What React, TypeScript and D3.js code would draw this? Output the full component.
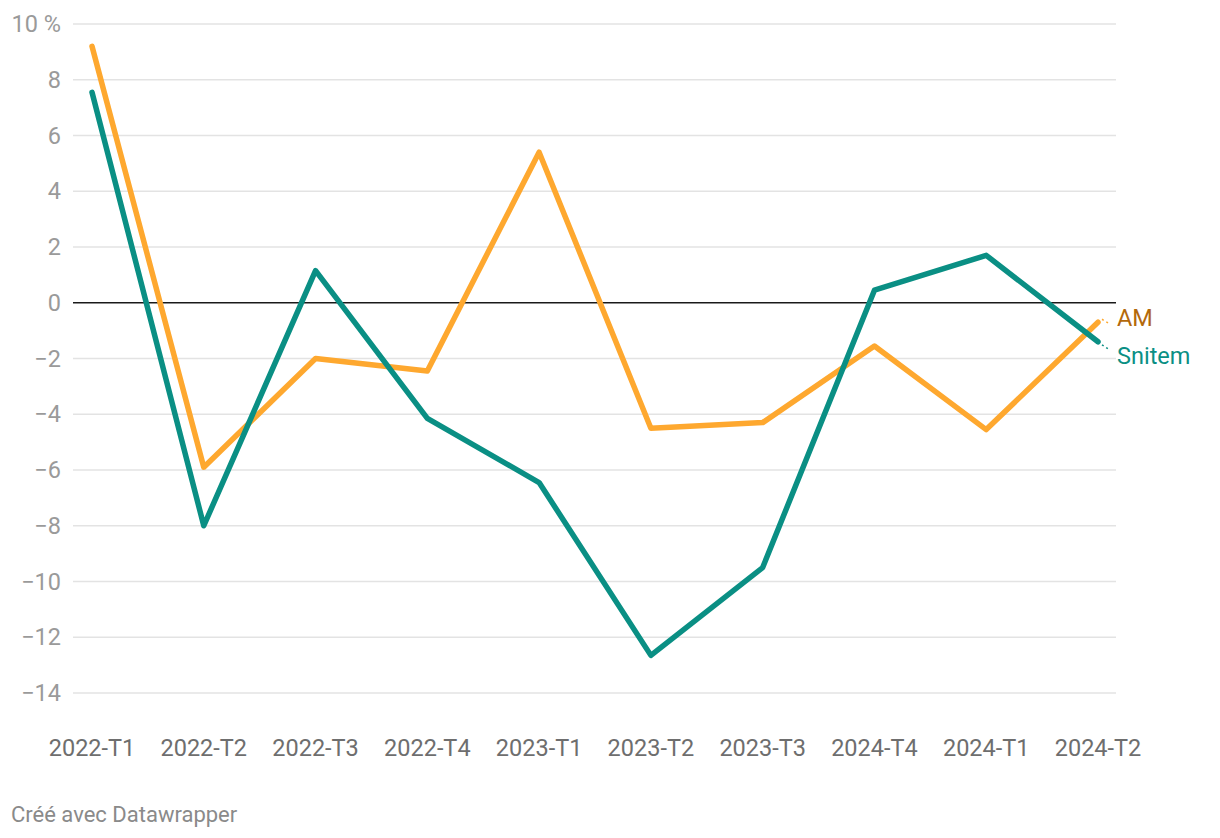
import * as d3 from "d3";
import React, { useRef, useEffect } from "react";

const quarters = ["2022-T1", "2022-T2", "2022-T3", "2022-T4", "2023-T1", "2023-T2", "2023-T3", "2024-T4", "2024-T1", "2024-T2"];
const amValues = [9.2, -5.9, -2.0, -2.45, 5.4, -4.5, -4.3, -1.55, -4.55, -0.7];
const snitemValues = [7.55, -8.0, 1.15, -4.15, -6.45, -12.65, -9.5, 0.45, 1.7, -1.4];
const yTicks = [10, 8, 6, 4, 2, 0, -2, -4, -6, -8, -10, -12, -14];

const width = 1220;
const height = 838;

const App = () => {
  const ref = useRef(null);

  useEffect(() => {
    const svg = d3.select(ref.current);
    svg.selectAll("*").remove();

    const font = "Roboto, sans-serif";
    const x = d3.scalePoint().domain(quarters).range([92, 1098]);
    const y = d3.scaleLinear().domain([-14, 10]).range([693, 24]);

    // grid
    const grid = svg.append("g");
    grid.selectAll("line")
      .data(yTicks.filter((d) => d !== 0))
      .enter()
      .append("line")
      .attr("x1", 73)
      .attr("x2", 1116)
      .attr("y1", (d) => y(d))
      .attr("y2", (d) => y(d))
      .attr("stroke", "#e3e3e3")
      .attr("stroke-width", 1.5);

    grid.selectAll("text")
      .data(yTicks)
      .enter()
      .append("text")
      .attr("x", 61)
      .attr("y", (d) => y(d))
      .attr("dy", "0.35em")
      .attr("text-anchor", "end")
      .attr("font-family", font)
      .attr("font-size", 23.5)
      .attr("fill", "#9a9a9a")
      .text((d) => (d === 10 ? "10 %" : d < 0 ? "\u2212" + Math.abs(d) : String(d)));

    // zero line
    svg.append("line")
      .attr("x1", 73)
      .attr("x2", 1116)
      .attr("y1", y(0))
      .attr("y2", y(0))
      .attr("stroke", "#1a1a1a")
      .attr("stroke-width", 1.5);

    // x labels
    svg.append("g").selectAll("text")
      .data(quarters)
      .enter()
      .append("text")
      .attr("x", (d) => x(d))
      .attr("y", 756)
      .attr("text-anchor", "middle")
      .attr("font-family", font)
      .attr("font-size", 23.5)
      .attr("fill", "#6e6e6e")
      .text((d) => d);

    const line = d3.line().x((d, i) => x(quarters[i])).y((d) => y(d));

    const series = [
      { name: "AM", values: amValues, color: "#fea82f", label: "#b3690b", ly: 318 },
      { name: "Snitem", values: snitemValues, color: "#0a8f84", label: "#0a8f84", ly: 356 },
    ];

    series.forEach((s) => {
      svg.append("path")
        .datum(s.values)
        .attr("d", line)
        .attr("fill", "none")
        .attr("stroke", s.color)
        .attr("stroke-width", 5.5)
        .attr("stroke-linejoin", "round")
        .attr("stroke-linecap", "round");

      const last = s.values[s.values.length - 1];
      svg.append("line")
        .attr("x1", x(quarters[quarters.length - 1]) + 4)
        .attr("y1", y(last) + (s.ly > y(last) ? 3 : -3))
        .attr("x2", 1110)
        .attr("y2", s.ly + (s.ly > y(last) ? -6 : 6))
        .attr("stroke", s.color)
        .attr("stroke-width", 1.5)
        .attr("stroke-dasharray", "2,3");

      svg.append("text")
        .attr("x", 1117)
        .attr("y", s.ly)
        .attr("dy", "0.35em")
        .attr("font-family", font)
        .attr("font-size", 23.5)
        .attr("fill", s.label)
        .text(s.name);
    });

    svg.append("text")
      .attr("x", 11)
      .attr("y", 822)
      .attr("font-family", font)
      .attr("font-size", 22)
      .attr("fill", "#8a8a8a")
      .text("Créé avec Datawrapper");
  }, []);

  return (
    <div style={{ margin: -8, background: "#fff" }}>
      <svg ref={ref} width={width} height={height} style={{ display: "block" }} />
    </div>
  );
};

export default App;
